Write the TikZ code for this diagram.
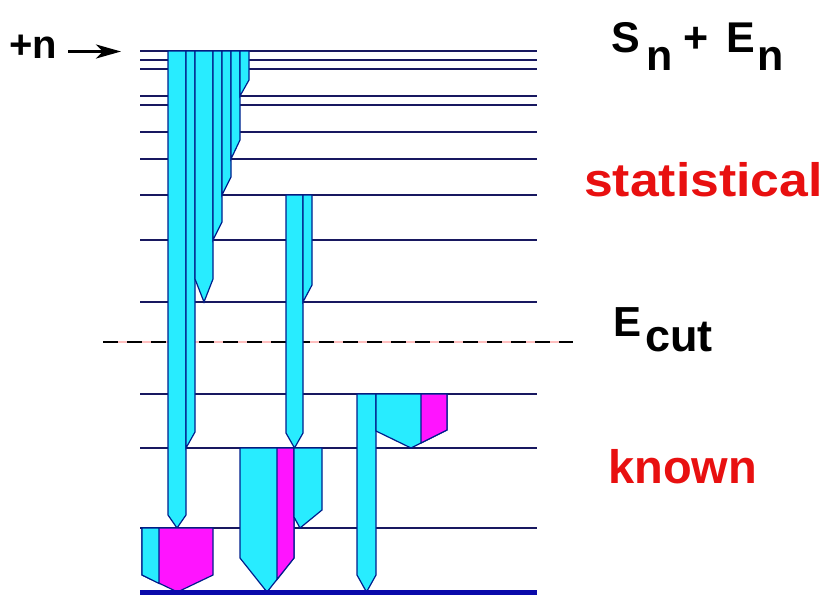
\documentclass[tikz,border=0pt]{standalone}
\usepackage{fontspec}
\setmainfont{Liberation Sans}
\usepackage{tikz}
\usetikzlibrary{arrows.meta}
\definecolor{LevelNavy}{RGB}{24,24,96}
\definecolor{BarNavy}{RGB}{0,30,140}
\definecolor{GammaCyan}{RGB}{40,236,255}
\definecolor{GammaMagenta}{RGB}{255,20,255}
\definecolor{GroundBlue}{RGB}{10,10,170}
\definecolor{LabelRed}{RGB}{232,16,16}
\tikzset{
  levelline/.style={draw=LevelNavy,line width=1.4pt},
  cutline/.style={draw=black,line width=2.4pt,dash pattern=on 15pt off 9pt},
  groundline/.style={draw=GroundBlue,line width=5pt},
  gammabar/.style={fill=GammaCyan,draw=BarNavy,line width=1.2pt,line join=miter},
  gammamix/.style={fill=GammaMagenta,draw=BarNavy,line width=1.2pt,line join=miter},
  levellabel/.style={font=\fontsize{42}{46}\selectfont\bfseries,inner sep=0pt,anchor=base west},
  regionlabel/.style={font=\fontsize{47}{50}\selectfont\bfseries,text=LabelRed,inner sep=0pt,anchor=base west}
}

\begin{document}
\begin{tikzpicture}[x=1pt,y=-1pt]
\useasboundingbox (0,0) rectangle (832,595);
% levels
\foreach \ly in {51,60,69,96,105,132,159,195,240,302,394,448,528}
  \draw[levelline] (140,\ly) -- (537,\ly);
\draw[draw=pink,line width=1.2pt] (103,342) -- (573,342);
\draw[cutline] (103,342) -- (573,342);
% cascade from the capture state
\draw[gammabar] (168,51) -- (186,51) -- (186,515) -- (177,528) -- (168,515) -- cycle;
\draw[gammabar] (186,51) -- (195,51) -- (195,432) -- (186,448) -- cycle;
\draw[gammabar] (195,51) -- (213,51) -- (213,279) -- (204,302) -- (195,279) -- cycle;
\draw[gammabar] (213,51) -- (222,51) -- (222,222) -- (213,240) -- cycle;
\draw[gammabar] (222,51) -- (231,51) -- (231,177) -- (222,195) -- cycle;
\draw[gammabar] (231,51) -- (240,51) -- (240,140) -- (231,159) -- cycle;
\draw[gammabar] (240,51) -- (249,51) -- (249,80) -- (240,96) -- cycle;
% from 195
\draw[gammabar] (286,195) -- (303,195) -- (303,433) -- (294.5,448) -- (286,433) -- cycle;
\draw[gammabar] (303,195) -- (312,195) -- (312,285) -- (303,302) -- cycle;
% from 394
\draw[gammabar] (357,394) -- (376,394) -- (376,575) -- (366.5,592) -- (357,575) -- cycle;
\draw[gammabar] (376,394) -- (447,394) -- (447,430) -- (411,448) -- (376,431) -- cycle;
\draw[gammamix] (421,394) -- (447,394) -- (447,430) -- (421,443) -- cycle;
% from 448
\draw[gammabar] (240,448) -- (294,448) -- (294,558) -- (267,592) -- (240,558) -- cycle;
\draw[gammamix] (277,448) -- (294,448) -- (294,558) -- (277,579.4) -- cycle;
\draw[gammabar] (294,448) -- (322,448) -- (322,510) -- (300,528) -- (294,517) -- cycle;
% from 528
\draw[gammamix] (142,528) -- (213,528) -- (213,575) -- (177.5,592) -- (142,575) -- cycle;
\draw[gammabar] (142,528) -- (159,528) -- (159,583.4) -- (142,575) -- cycle;
\draw[groundline] (140,592) -- (537,592);
% labels
\node[font=\fontsize{40}{44}\selectfont\bfseries,inner sep=0pt,anchor=base west] (plusn) at (9,58) {+n};
\coordinate (capture) at (121,51.5);
\draw[-{Stealth[length=25pt,width=14pt,inset=7pt]},line width=3pt] (68,51.5) -- (capture);
\node[levellabel,font=\fontsize{43}{46}\selectfont\bfseries] (snen) at (611,52)
  {S\hspace{0.15em}\raisebox{-0.42em}{n}\hspace{0.25em}+\hspace{0.43em}E\hspace{0.04em}\raisebox{-0.42em}{n}};
\node[regionlabel,xscale=1.1] (stat) at (584,196) {statistical};
\node[levellabel] (ecut) at (613,336) {E\raisebox{-0.38em}{\hspace{0.1em}\fontsize{45}{48}\selectfont cut}};
\node[regionlabel] (known) at (608,483) {known};
\end{tikzpicture}
\end{document}
